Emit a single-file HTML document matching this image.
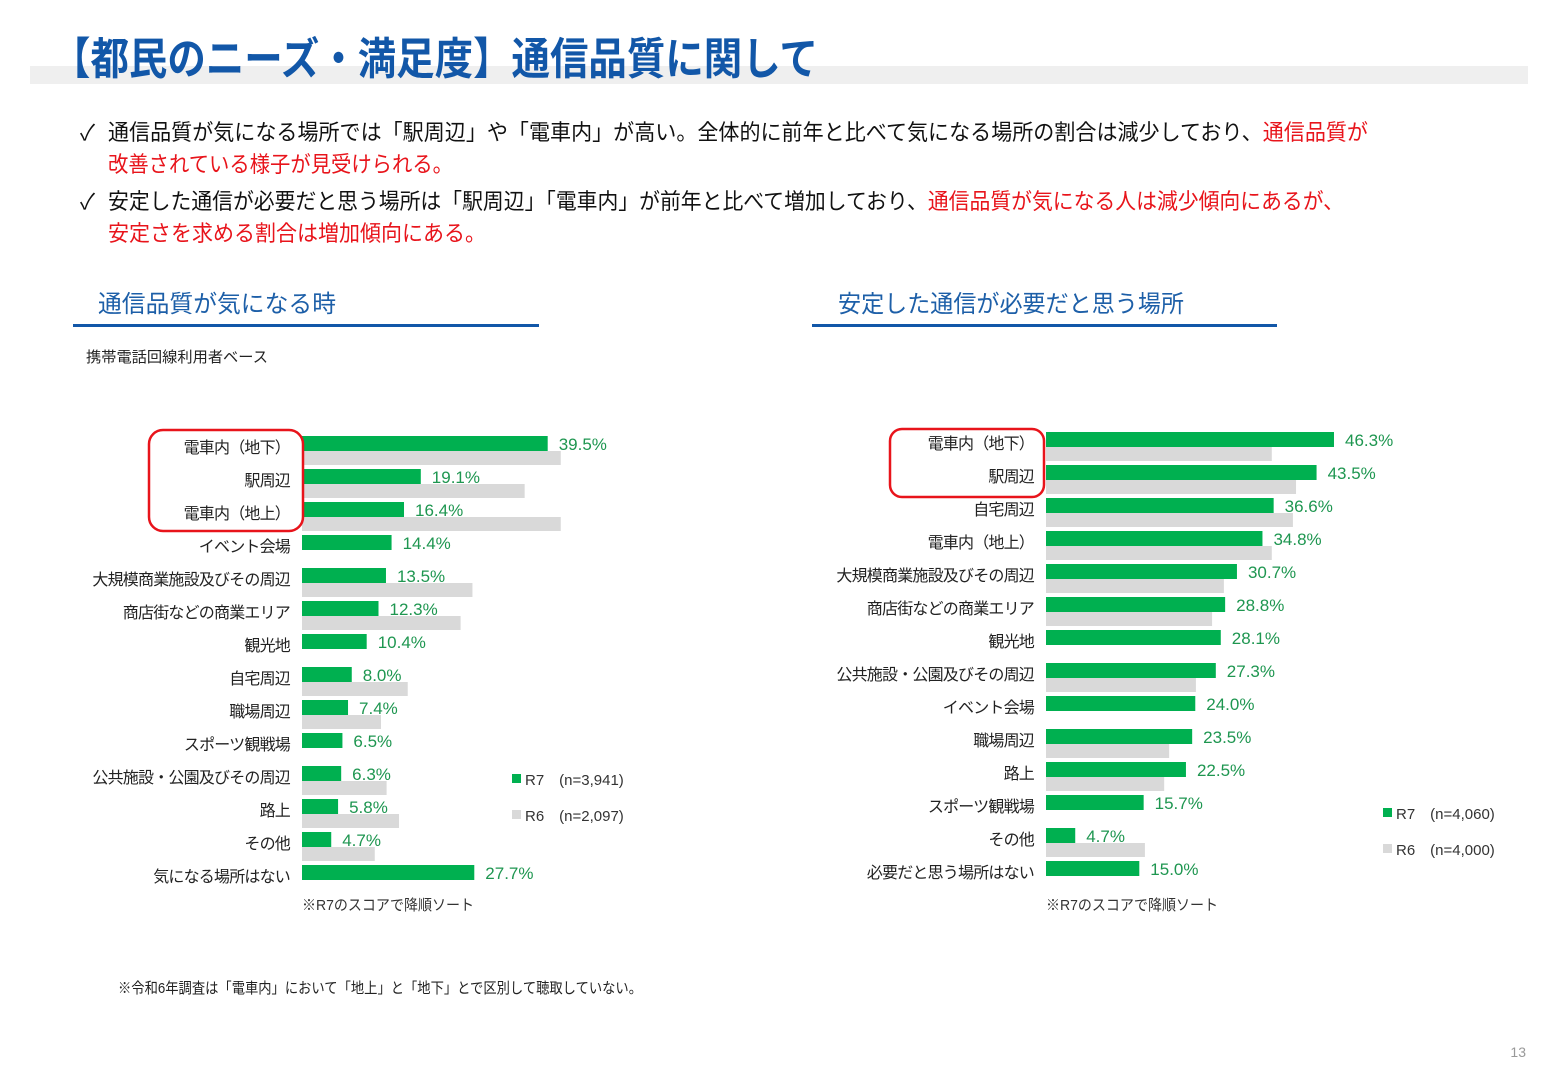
<!DOCTYPE html>
<html><head><meta charset="utf-8">
<style>
html,body{margin:0;padding:0;background:#fff;}
svg{display:block;font-family:"Liberation Sans","Noto Sans CJK JP",sans-serif;}
</style></head>
<body>
<svg id="page" width="1560" height="1080" viewBox="0 0 1560 1080">
  <rect x="30" y="66" width="1498" height="18" fill="#efefef"/>
  <text x="52" y="74" font-size="44" font-weight="bold" fill="#1257a8" textLength="766" lengthAdjust="spacingAndGlyphs">【都民のニーズ・満足度】通信品質に関して</text>

  <g font-size="22">
    <text x="80" y="140" fill="#111">✓</text>
    <text x="108" y="140" fill="#111" textLength="1260" lengthAdjust="spacingAndGlyphs">通信品質が気になる場所では「駅周辺」や「電車内」が高い。全体的に前年と比べて気になる場所の割合は減少しており、<tspan fill="#e8141b">通信品質が</tspan></text>
    <text x="108" y="172" fill="#e8141b" textLength="345" lengthAdjust="spacingAndGlyphs">改善されている様子が見受けられる。</text>
    <text x="80" y="209" fill="#111">✓</text>
    <text x="108" y="209" fill="#111" textLength="1236" lengthAdjust="spacingAndGlyphs">安定した通信が必要だと思う場所は「駅周辺」「電車内」が前年と比べて増加しており、<tspan fill="#e8141b">通信品質が気になる人は減少傾向にあるが、</tspan></text>
    <text x="108" y="241" fill="#e8141b" textLength="378" lengthAdjust="spacingAndGlyphs">安定さを求める割合は増加傾向にある。</text>
  </g>

  <text x="98" y="312" font-size="24" fill="#1d5fa8" textLength="238" lengthAdjust="spacingAndGlyphs">通信品質が気になる時</text>
  <rect x="73" y="324" width="466" height="3" fill="#1257a8"/>
  <text x="838" y="312" font-size="24" fill="#1d5fa8" textLength="346" lengthAdjust="spacingAndGlyphs">安定した通信が必要だと思う場所</text>
  <rect x="812" y="324" width="465" height="3" fill="#1257a8"/>
  <text x="86" y="362" font-size="15" fill="#222" textLength="182" lengthAdjust="spacingAndGlyphs">携帯電話回線利用者ベース</text>

  <g id="leftChart"></g>
  <g id="rightChart"></g>

  <rect x="149" y="430" width="154" height="101" rx="14" fill="none" stroke="#e8141b" stroke-width="2.5"/>
  <rect x="890" y="429" width="154" height="68" rx="12" fill="none" stroke="#e8141b" stroke-width="2.5"/>

  <g font-size="15" fill="#333">
    <rect x="512" y="774" width="9" height="9" fill="#00b050"/>
    <text x="525" y="785">R7　(n=3,941)</text>
    <rect x="512" y="810" width="9" height="9" fill="#d9d9d9"/>
    <text x="525" y="821">R6　(n=2,097)</text>
  </g>
  <g font-size="15" fill="#333">
    <rect x="1383" y="808" width="9" height="9" fill="#00b050"/>
    <text x="1396" y="819">R7　(n=4,060)</text>
    <rect x="1383" y="844" width="9" height="9" fill="#d9d9d9"/>
    <text x="1396" y="855">R6　(n=4,000)</text>
  </g>

  <text x="302" y="910" font-size="15" fill="#333" textLength="172" lengthAdjust="spacingAndGlyphs">※R7のスコアで降順ソート</text>
  <text x="1046" y="910" font-size="15" fill="#333" textLength="172" lengthAdjust="spacingAndGlyphs">※R7のスコアで降順ソート</text>
  <text x="118" y="993" font-size="15" fill="#222" textLength="524" lengthAdjust="spacingAndGlyphs">※令和6年調査は「電車内」において「地上」と「地下」とで区別して聴取していない。</text>
  <text x="1526" y="1057" font-size="14" fill="#999" text-anchor="end">13</text>
</svg>
<script>
const leftCategories = ["電車内（地下）","駅周辺","電車内（地上）","イベント会場","大規模商業施設及びその周辺","商店街などの商業エリア","観光地","自宅周辺","職場周辺","スポーツ観戦場","公共施設・公園及びその周辺","路上","その他","気になる場所はない"];
const leftR7 = [39.5,19.1,16.4,14.4,13.5,12.3,10.4,8.0,7.4,6.5,6.3,5.8,4.7,27.7];
const leftR6 = [41.6,35.8,41.6,null,27.4,25.5,null,17.0,12.7,null,13.6,15.6,11.7,null];

const rightCategories = ["電車内（地下）","駅周辺","自宅周辺","電車内（地上）","大規模商業施設及びその周辺","商店街などの商業エリア","観光地","公共施設・公園及びその周辺","イベント会場","職場周辺","路上","スポーツ観戦場","その他","必要だと思う場所はない"];
const rightR7 = [46.3,43.5,36.6,34.8,30.7,28.8,28.1,27.3,24.0,23.5,22.5,15.7,4.7,15.0];
const rightR6 = [36.3,40.2,39.7,36.3,28.6,26.7,null,24.1,null,19.8,19.0,null,15.9,null];

const NS = "http://www.w3.org/2000/svg";
function drawChart(gid, cats, r7, r6, x0, y0) {
  const g = document.getElementById(gid);
  const scale = v => v * 6.22;
  const rowY = i => y0 + i * 33;
  cats.forEach((c, i) => {
    const y = rowY(i);
    const lab = document.createElementNS(NS, "text");
    lab.setAttribute("x", x0 - 12);
    lab.setAttribute("y", y + 17);
    lab.setAttribute("text-anchor", "end");
    lab.setAttribute("font-size", "16");
    lab.setAttribute("fill", "#222");
    lab.setAttribute("letter-spacing", "-0.8");
    lab.textContent = c;
    
    
    g.appendChild(lab);

    const b = document.createElementNS(NS, "rect");
    b.setAttribute("x", x0);
    b.setAttribute("y", y);
    b.setAttribute("width", scale(r7[i]));
    b.setAttribute("height", 15);
    b.setAttribute("fill", "#00b050");
    
    
    g.appendChild(b);

    if (r6[i] != null) {
      const b2 = document.createElementNS(NS, "rect");
      b2.setAttribute("x", x0);
      b2.setAttribute("y", y + 15);
      b2.setAttribute("width", scale(r6[i]));
      b2.setAttribute("height", 14);
      b2.setAttribute("fill", "#d9d9d9");
      
      
      g.appendChild(b2);
    }

    const v = document.createElementNS(NS, "text");
    v.setAttribute("x", x0 + scale(r7[i]) + 11);
    v.setAttribute("y", y + 14);
    v.setAttribute("font-size", "17");
    v.setAttribute("fill", "#1e9650");
    v.textContent = r7[i].toFixed(1) + "%";
    
    
    g.appendChild(v);
  });
}
drawChart("leftChart", leftCategories, leftR7, leftR6, 302, 436);
drawChart("rightChart", rightCategories, rightR7, rightR6, 1046, 432);
</script>
</body></html>
